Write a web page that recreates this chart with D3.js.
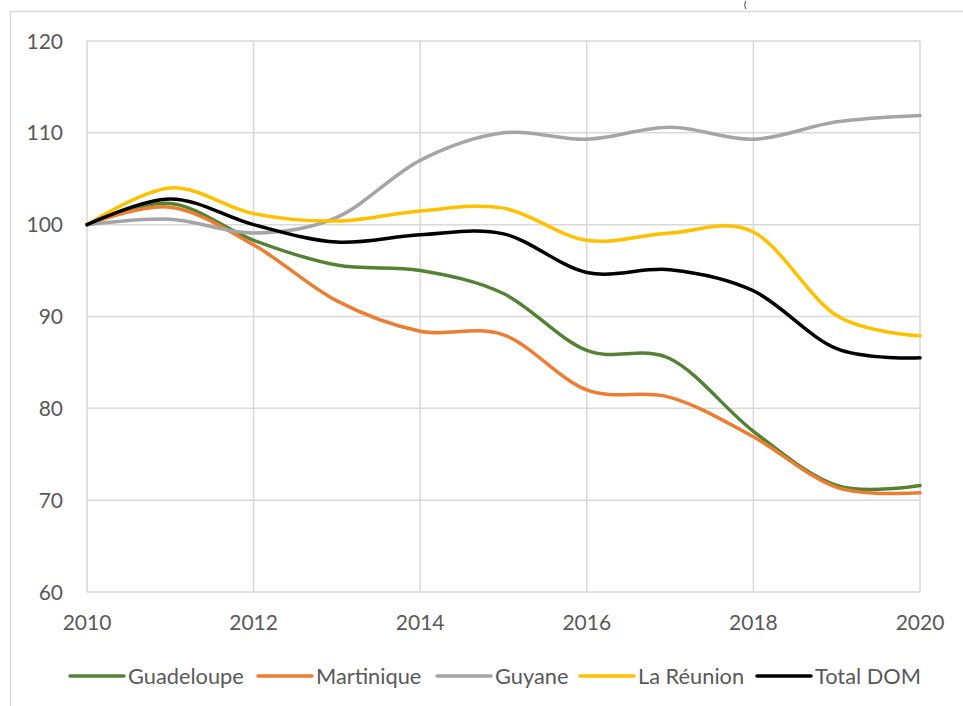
<!DOCTYPE html>
<html>
<head>
<meta charset="utf-8">
<script src="https://cdn.jsdelivr.net/npm/d3@7"></script>
<style>
  html, body { margin: 0; padding: 0; background: #fff; }
  svg { display: block; }
  text { font-family: Lato, "Noto Sans", sans-serif; fill: #595959; }
</style>
</head>
<body>
<svg id="chart" width="963" height="706"></svg>
<script>
const years = [2010, 2011, 2012, 2013, 2014, 2015, 2016, 2017, 2018, 2019, 2020];
const xTicks = [2010, 2012, 2014, 2016, 2018, 2020];
const yTicks = [60, 70, 80, 90, 100, 110, 120];
const seriesNames = ["Guadeloupe", "Martinique", "Guyane", "La Réunion", "Total DOM"];
const seriesColors = ["#548235", "#ED7D31", "#A5A5A5", "#FFC000", "#000000"];
const guadeloupe = [100, 102.3, 98.3, 95.6, 95.0, 92.5, 86.3, 85.4, 77.5, 71.6, 71.6];
const martinique = [100, 101.9, 97.8, 91.7, 88.4, 88.0, 82.0, 81.2, 76.9, 71.4, 70.8];
const guyane = [100, 100.6, 99.1, 100.8, 107.0, 110.0, 109.3, 110.6, 109.3, 111.2, 111.9];
const reunion = [100, 104.0, 101.2, 100.4, 101.5, 101.8, 98.3, 99.1, 99.2, 90.1, 87.9];
const totalDom = [100, 102.8, 100.0, 98.1, 98.9, 99.0, 94.8, 95.1, 92.8, 86.5, 85.5];
const seriesValues = [guadeloupe, martinique, guyane, reunion, totalDom];

const svg = d3.select("#chart");
const gridColor = "#d9d9d9";

// outer chart border (partially visible)
svg.append("line").attr("x1", 10).attr("x2", 963).attr("y1", 11.5).attr("y2", 11.5)
  .attr("stroke", gridColor).attr("stroke-width", 1.3);
svg.append("line").attr("x1", 10.5).attr("x2", 10.5).attr("y1", 11).attr("y2", 706)
  .attr("stroke", gridColor).attr("stroke-width", 1.3);

// title fragment visible at the top edge
svg.append("text").attr("x", 744).attr("y", 8).style("font-size", "9px").style("fill", "#000").text("(");

const x = d3.scaleLinear().domain([2010, 2020]).range([87, 920]);
const y = d3.scaleLinear().domain([60, 120]).range([592, 41]);

// gridlines
svg.append("g").selectAll("line").data(yTicks).join("line")
  .attr("x1", x(2010)).attr("x2", x(2020))
  .attr("y1", d => y(d)).attr("y2", d => y(d))
  .attr("stroke", gridColor).attr("stroke-width", 1.5);
svg.append("g").selectAll("line").data(xTicks).join("line")
  .attr("x1", d => x(d)).attr("x2", d => x(d))
  .attr("y1", y(60)).attr("y2", y(120))
  .attr("stroke", gridColor).attr("stroke-width", 1.5);

// axis labels
svg.append("g").selectAll("text").data(yTicks).join("text")
  .attr("x", 63).attr("y", d => y(d) + 7.5)
  .attr("text-anchor", "end").style("font-size", "21px").text(d => d);
svg.append("g").selectAll("text").data(xTicks).join("text")
  .attr("x", d => x(d)).attr("y", 630)
  .attr("text-anchor", "middle").style("font-size", "21px").text(d => d);

// lines
const line = d3.line().x((d, i) => x(years[i])).y(d => y(d)).curve(d3.curveCardinal.tension(0));
svg.append("g").selectAll("path").data(seriesValues).join("path")
  .attr("d", d => line(d))
  .attr("fill", "none")
  .attr("stroke", (d, i) => seriesColors[i])
  .attr("stroke-width", 3.5)
  .attr("stroke-linecap", "round")
  .attr("stroke-linejoin", "round");

// legend
const legendX = [70, 258, 437, 580, 757];
const lg = svg.append("g").selectAll("g").data(seriesNames).join("g")
  .attr("transform", (d, i) => `translate(${legendX[i]},676)`);
lg.append("line").attr("x1", 0).attr("x2", 54).attr("y1", 0).attr("y2", 0)
  .attr("stroke", (d, i) => seriesColors[i]).attr("stroke-width", 3.5).attr("stroke-linecap", "round");
lg.append("text").attr("x", 58).attr("y", 7.5).style("font-size", "21.8px").text(d => d);
</script>
</body>
</html>
